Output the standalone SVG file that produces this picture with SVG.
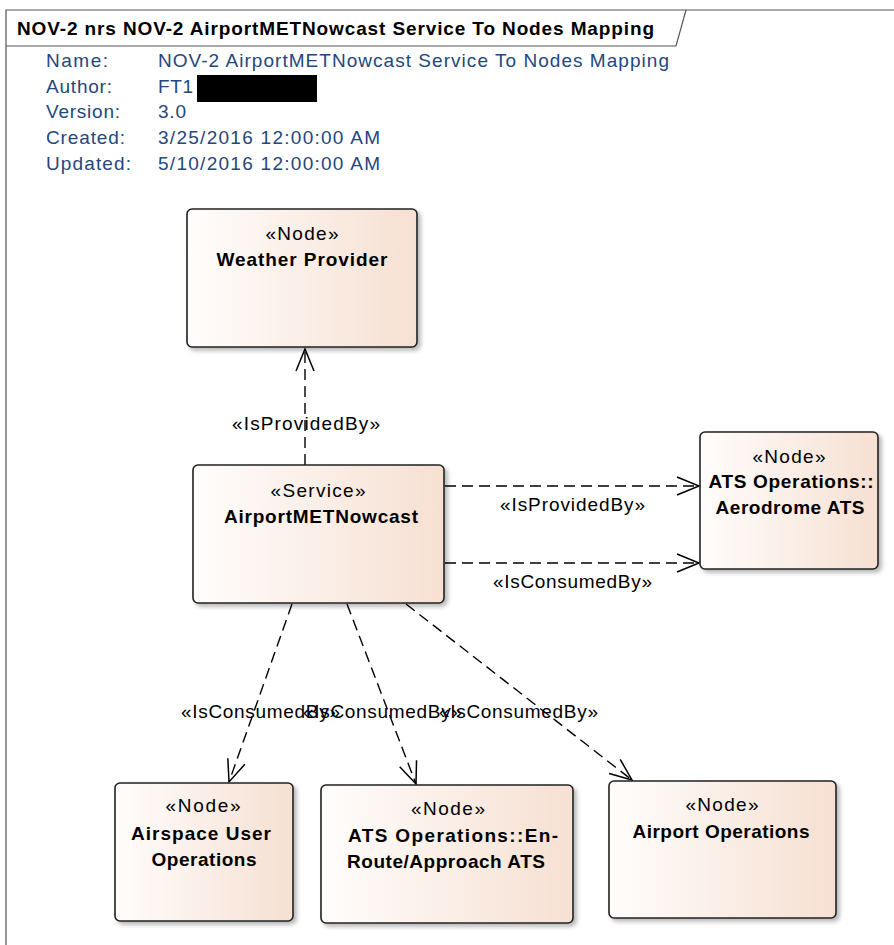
<svg xmlns="http://www.w3.org/2000/svg" width="894" height="945" viewBox="0 0 894 945">
  <defs>
    <linearGradient id="nodeFill" x1="0" y1="0" x2="1" y2="0">
      <stop offset="0" stop-color="#fffdfc"/>
      <stop offset="1" stop-color="#f6e0d2"/>
    </linearGradient>
    <filter id="shadow" x="-10%" y="-10%" width="130%" height="130%">
      <feDropShadow dx="3" dy="3" stdDeviation="2" flood-color="#000" flood-opacity="0.28"/>
    </filter>
    <marker id="open" markerUnits="userSpaceOnUse" viewBox="-24 -11 26 22" refX="0" refY="0" markerWidth="26" markerHeight="22" orient="auto">
      <path d="M-22,-9 L0,0 L-22,9" fill="none" stroke="#000" stroke-width="1.5"/>
    </marker>
    <style>
      .frame { fill: none; stroke: #555; stroke-width: 1.2; }
      .title { font-family: "Liberation Sans", Arial, sans-serif; font-size: 19px; font-weight: bold; fill: #000; }
      .meta { font-family: "Liberation Sans", Arial, sans-serif; font-size: 19px; fill: #24477d; }
      .box { fill: url(#nodeFill); stroke: #222; stroke-width: 1.6; filter: url(#shadow); }
      .st { font-family: "Liberation Sans", Arial, sans-serif; font-size: 19px; fill: #000; text-anchor: middle; }
      .nm { font-family: "Liberation Sans", Arial, sans-serif; font-size: 19px; font-weight: bold; fill: #000; text-anchor: middle; }
      .dep { fill: none; stroke: #000; stroke-width: 1.4; stroke-dasharray: 11 6; marker-end: url(#open); }
      .lbl { font-family: "Liberation Sans", Arial, sans-serif; font-size: 19px; fill: #000; }
    </style>
  </defs>

  <rect width="894" height="945" fill="#fff"/>

  <!-- diagram frame and title tab -->
  <g id="frame">
    <path class="frame" d="M6,945 L6,10 L894,10"/>
    <path class="frame" d="M6,46 L676,46 L686,10"/>
    <text class="title" x="17" y="35" textLength="637">NOV-2 nrs NOV-2 AirportMETNowcast Service To Nodes Mapping</text>
  </g>

  <!-- diagram properties -->
  <g id="properties">
    <text class="meta" x="46" y="67" textLength="62">Name:</text>
    <text class="meta" x="46" y="93" textLength="66">Author:</text>
    <text class="meta" x="46" y="118" textLength="74">Version:</text>
    <text class="meta" x="46" y="144" textLength="79">Created:</text>
    <text class="meta" x="46" y="170" textLength="85">Updated:</text>
    <text class="meta" x="158" y="67" textLength="511">NOV-2 AirportMETNowcast Service To Nodes Mapping</text>
    <text class="meta" x="158" y="93" textLength="35">FT1</text>
    <rect x="197" y="75" width="120" height="27" fill="#000"/>
    <text class="meta" x="158" y="118" textLength="28">3.0</text>
    <text class="meta" x="158" y="144" textLength="222">3/25/2016 12:00:00 AM</text>
    <text class="meta" x="158" y="170" textLength="222">5/10/2016 12:00:00 AM</text>
  </g>

  <!-- connectors -->
  <g id="connectors">
    <line class="dep" x1="305" y1="465" x2="305" y2="349"/>
    <line class="dep" x1="445" y1="486" x2="699" y2="486"/>
    <line class="dep" x1="445" y1="563" x2="699" y2="563"/>
    <line class="dep" x1="292" y1="604" x2="229" y2="782"/>
    <line class="dep" x1="347" y1="604" x2="416" y2="784"/>
    <line class="dep" x1="406" y1="604" x2="632" y2="780"/>
    <text class="lbl" x="232" y="430" textLength="148">«IsProvidedBy»</text>
    <text class="lbl" x="500" y="511" textLength="145">«IsProvidedBy»</text>
    <text class="lbl" x="493" y="588" textLength="159">«IsConsumedBy»</text>
    <text class="lbl" x="181" y="718" textLength="159">«IsConsumedBy»</text>
    <text class="lbl" x="303" y="718" textLength="159">«IsConsumedBy»</text>
    <text class="lbl" x="439" y="718" textLength="159">«IsConsumedBy»</text>
  </g>

  <g id="weather-provider">
    <rect class="box" x="187" y="209" width="230" height="138" rx="5"/>
    <text class="st" x="302" y="240" textLength="73">«Node»</text>
    <text class="nm" x="302" y="266" textLength="171">Weather Provider</text>
  </g>

  <g id="airport-met-nowcast">
    <rect class="box" x="193" y="465" width="251" height="138" rx="5"/>
    <text class="st" x="318" y="497" textLength="95">«Service»</text>
    <text class="nm" x="321" y="523" textLength="194">AirportMETNowcast</text>
  </g>

  <g id="aerodrome-ats">
    <rect class="box" x="700" y="432" width="178" height="137" rx="5"/>
    <text class="st" x="789" y="463" textLength="73">«Node»</text>
    <text class="nm" x="791" y="488" textLength="165">ATS Operations::</text>
    <text class="nm" x="790" y="514" textLength="149">Aerodrome ATS</text>
  </g>

  <g id="airspace-user-operations">
    <rect class="box" x="115" y="783" width="178" height="138" rx="5"/>
    <text class="st" x="203" y="812" textLength="75">«Node»</text>
    <text class="nm" x="201" y="840" textLength="140">Airspace User</text>
    <text class="nm" x="204" y="866" textLength="105">Operations</text>
  </g>

  <g id="en-route-approach-ats">
    <rect class="box" x="321" y="785" width="252" height="138" rx="5"/>
    <text class="st" x="448" y="815" textLength="74">«Node»</text>
    <text class="nm" x="453" y="842" textLength="210">ATS Operations::En-</text>
    <text class="nm" x="446" y="868" textLength="198">Route/Approach ATS</text>
  </g>

  <g id="airport-operations">
    <rect class="box" x="609" y="781" width="227" height="137" rx="5"/>
    <text class="st" x="722" y="811" textLength="73">«Node»</text>
    <text class="nm" x="721" y="838" textLength="177">Airport Operations</text>
  </g>
</svg>
